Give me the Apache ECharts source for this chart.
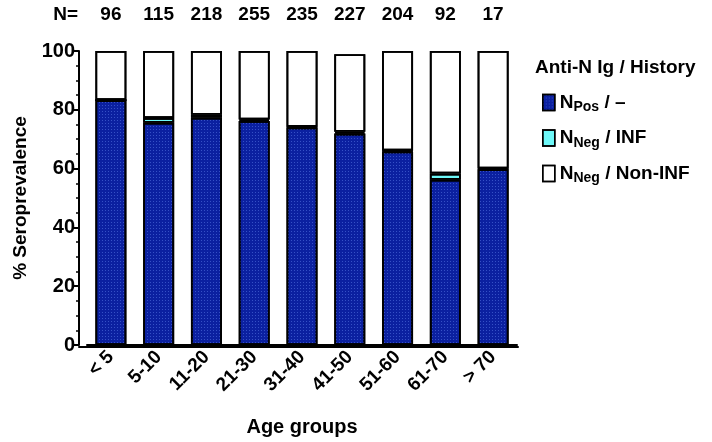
<!DOCTYPE html>
<html>
<head>
<meta charset="utf-8">
<script src="https://cdn.jsdelivr.net/npm/echarts@6/dist/echarts.min.js"></script>
<style>
  html, body { margin: 0; padding: 0; background: #fff; }
  #chart { width: 712px; height: 442px; }
</style>
</head>
<body>
<div id="chart"></div>
<script>
// age groups and counts
const ageGroups = ['< 5', '5-10', '11-20', '21-30', '31-40', '41-50', '51-60', '61-70', '> 70'];
const nCounts = ['96', '115', '218', '255', '235', '227', '204', '92', '17'];

// % seroprevalence, stacked
const nPos = [83.3, 75.6, 77.3, 76.2, 74.0, 71.9, 65.8, 56.2, 59.8];
const nNegInf = [0, 1.6, 1.0, 0.5, 0.2, 0.6, 0.3, 2.1, 0.2];
const nNegNonInf = [16.7, 22.8, 21.7, 23.3, 25.8, 26.4, 33.9, 41.7, 40.0];

const FONT = '"Liberation Sans", Arial, sans-serif';
const chart = echarts.init(document.getElementById('chart'));

// dotted fill like the original
const dots = {
  symbol: 'rect',
  symbolSize: 1,
  color: 'rgba(90,120,230,0.55)',
  dashArrayX: [[1, 2]],
  dashArrayY: [1, 2],
  rotation: 0
};

const option = {
  animation: false,
  aria: { enabled: true, decal: { show: true } },
  textStyle: { fontFamily: FONT },
  title: {
    text: 'Anti-N Ig / History',
    left: 530, top: 53,
    textStyle: { fontFamily: FONT, fontSize: 19, fontWeight: 'bold', color: '#000' }
  },
  legend: {
    orient: 'vertical',
    left: 537, top: 88,
    itemWidth: 12, itemHeight: 16, itemGap: 14,
    icon: 'rect',
    itemStyle: { borderColor: '#000', borderWidth: 1.5 },
    data: ['pos', 'inf', 'non'],
    formatter: function (name) {
      if (name === 'pos') return '{b|N}{s|Pos}{b| / –}';
      if (name === 'inf') return '{b|N}{s|Neg}{b| / INF}';
      return '{b|N}{s|Neg}{b| / Non-INF}';
    },
    textStyle: {
      rich: {
        b: { fontFamily: FONT, fontSize: 19, fontWeight: 'bold', color: '#000' },
        s: { fontFamily: FONT, fontSize: 14, fontWeight: 'bold', color: '#000', padding: [10, 0, 0, 0] }
      }
    }
  },
  grid: [
    { left: 87, width: 430, top: 51, bottom: 95 },
    { left: 79, width: 439, top: 51, bottom: 95 }
  ],
  xAxis: [
    {
      type: 'category',
      data: ageGroups,
      axisLine: { lineStyle: { color: '#000', width: 2 } },
      axisTick: { alignWithLabel: true, length: 6, lineStyle: { color: '#000', width: 2 } },
      axisLabel: { rotate: 45, margin: 9, color: '#000', fontSize: 19, fontWeight: 'bold', fontFamily: FONT },
      name: 'Age groups',
      nameLocation: 'middle',
      nameGap: 72,
      nameTextStyle: { color: '#000', fontSize: 20, fontWeight: 'bold', fontFamily: FONT }
    },
    {
      type: 'category',
      position: 'top',
      offset: 36,
      data: nCounts,
      axisLine: { show: false },
      axisTick: { show: false },
      axisLabel: { margin: 0, verticalAlign: 'middle', color: '#000', fontSize: 19, fontWeight: 'bold', fontFamily: FONT },
      name: 'N=',
      nameLocation: 'start',
      nameGap: 9,
      nameTextStyle: { color: '#000', fontSize: 19, fontWeight: 'bold', fontFamily: FONT, verticalAlign: 'middle' }
    },
    {
      gridIndex: 1,
      type: 'value',
      min: 0, max: 1,
      axisLine: { show: true, onZero: false, lineStyle: { color: '#000', width: 2 } },
      axisTick: { show: false },
      axisLabel: { show: false },
      splitLine: { show: false }
    }
  ],
  yAxis: [
    {
      type: 'value',
      min: 0, max: 100, interval: 20,
      offset: 8,
      axisLine: { show: true, lineStyle: { color: '#000', width: 2 } },
      axisTick: { show: true, length: 6, lineStyle: { color: '#000', width: 2 } },
      minorTick: { show: true, splitNumber: 4, length: 3, lineStyle: { color: '#000', width: 1.5 } },
      splitLine: { show: false },
      axisLabel: { margin: 4, color: '#000', fontSize: 20, fontWeight: 'bold', fontFamily: FONT },
      name: '% Seroprevalence',
      nameLocation: 'middle',
      nameGap: 43,
      nameTextStyle: { color: '#000', fontSize: 19, fontWeight: 'bold', fontFamily: FONT }
    },
    { gridIndex: 1, type: 'value', show: false }
  ],
  series: [
    {
      name: 'pos', type: 'bar', stack: 'a', barWidth: 31,
      data: nPos,
      itemStyle: { color: '#0b20a0', borderColor: '#000', borderWidth: 1.8, decal: dots }
    },
    {
      name: 'inf', type: 'bar', stack: 'a', barWidth: 31,
      data: nNegInf,
      itemStyle: { color: '#6ef8f8', borderColor: '#000', borderWidth: 1.8, decal: { symbol: 'none' } }
    },
    {
      name: 'non', type: 'bar', stack: 'a', barWidth: 31,
      data: nNegNonInf,
      itemStyle: { color: '#ffffff', borderColor: '#000', borderWidth: 1.8, decal: { symbol: 'none' } }
    }
  ]
};

chart.setOption(option);
</script>
</body>
</html>
